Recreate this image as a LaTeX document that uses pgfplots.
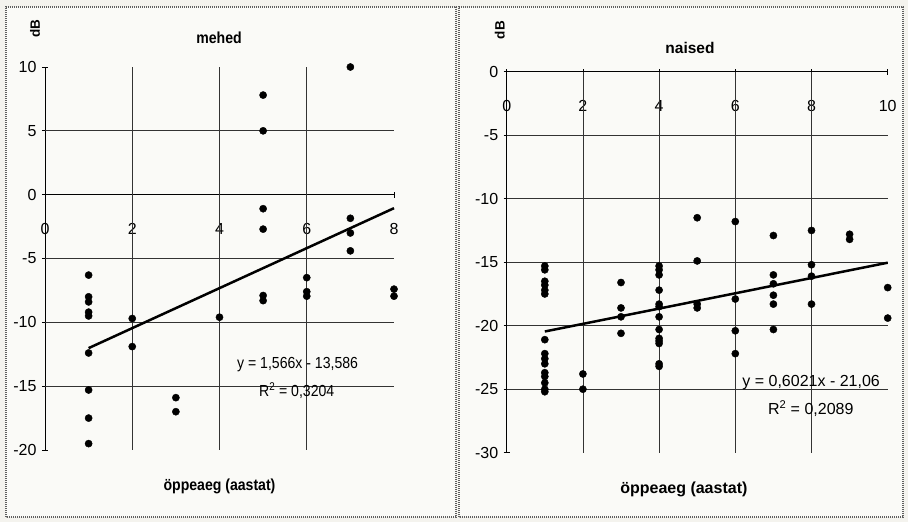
\documentclass[border=0pt]{standalone}
\usepackage{graphicx}
\usepackage{pgfplots}
\pgfplotsset{compat=1.18}
\usepackage{fontspec}
\setmainfont{Liberation Sans}
\definecolor{bg}{RGB}{244,243,238}
\definecolor{framec}{RGB}{95,95,95}
\newcommand{\lsq}[1]{\scalebox{0.88}[1]{#1}}
\begin{document}
\begin{tikzpicture}[x=1pt,y=1pt]
\path[use as bounding box, fill=bg] (0,0) rectangle (908,522);
\fill[white!55!bg] (6,5) rectangle (456,515);
\fill[white!55!bg] (459,5) rectangle (903,515);
\draw[framec, line width=2.2pt, dash pattern=on 1.1pt off 0.9pt] (6,5) rectangle (456,515);
\draw[framec, line width=2.2pt, dash pattern=on 1.1pt off 0.9pt] (459,5) rectangle (903,515);
\pgfplotsset{
  myax/.style={
    scale only axis, axis x line=middle, axis y line=left,
    x axis line style={-}, y axis line style={-},
    axis line style={black, line width=0.9pt},
    hide obscured x ticks=false,
    enlargelimits=false, clip=false,
    tick align=center, major tick length=6pt,
    tick style={black, line width=0.8pt},
    major grid style={black!80, line width=0.8pt},
    /pgf/number format/assume math mode=true,
    ticklabel style={font=\fontsize{16}{18}\selectfont},
    xticklabel style={anchor=center, yshift=-31pt},
    yticklabel style={xshift=-2pt},
    extra x tick style={grid=major, major tick length=0pt},
    extra y tick style={grid=major, major tick length=0pt},
  }
}
% ---------------- left: mehed ----------------
\begin{axis}[myax, at={(45pt,72pt)}, anchor=south west,
  width=349pt, height=383pt,
  xmin=0, xmax=8, ymin=-20, ymax=10,
  xtick={0,2,4,6,8}, ytick={-20,-15,-10,-5,0,5,10},
  extra x ticks={2,4,6}, extra x tick labels={},
  extra y ticks={-15,-10,-5,5}, extra y tick labels={}]
\addplot[only marks, mark=*, mark size=3.6pt, black] coordinates {
 (1,-6.3) (1,-8.0) (1,-8.4) (1,-9.2) (1,-9.5) (1,-12.4) (1,-15.3) (1,-17.5) (1,-19.5)
 (2,-9.7) (2,-11.9)
 (3,-15.9) (3,-17.0)
 (4,-9.6)
 (5,7.8) (5,5.0) (5,-1.1) (5,-2.7) (5,-7.9) (5,-8.3)
 (6,-6.5) (6,-7.6) (6,-7.95)
 (7,10.0) (7,-1.85) (7,-3.0) (7,-4.4)
 (8,-7.4) (8,-7.95)
};
\addplot[black, line width=2.5pt] coordinates {(1,-12.02) (8,-1.058)};
\node[font=\fontsize{16}{18}\selectfont] at (axis cs:5.79,-13.3) {\lsq{y = 1,566x - 13,586}};
\node[font=\fontsize{16}{18}\selectfont] at (axis cs:5.77,-15.35) {\lsq{R\textsuperscript{2} = 0,3204}};
\node[font=\bfseries\fontsize{16}{18}\selectfont] at (axis cs:3.99,12.3) {\lsq{mehed}};
\node[font=\bfseries\fontsize{16}{18}\selectfont] at (axis cs:4.0,-22.87) {\lsq{öppeaeg (aastat)}};
\node[font=\bfseries\fontsize{13.5}{15}\selectfont, rotate=90] at (axis cs:-0.23,13.0) {dB};
\end{axis}
% ---------------- right: naised ----------------
\begin{axis}[myax, at={(506.7pt,69.3pt)}, anchor=south west,
  width=381pt, height=381pt,
  xmin=0, xmax=10, ymin=-30, ymax=0,
  xtick={0,2,4,6,8,10}, ytick={-30,-25,-20,-15,-10,-5,0},
  extra x ticks={2,4,6,8}, extra x tick labels={},
  extra y ticks={-25,-20,-15,-10,-5}, extra y tick labels={}]
\addplot[only marks, mark=*, mark size=3.6pt, black] coordinates {
 (1,-15.3) (1,-15.6) (1,-16.5) (1,-16.8) (1,-17.2) (1,-17.5) (1,-21.1) (1,-22.2)
 (1,-22.6) (1,-23.0) (1,-23.7) (1,-24.0) (1,-24.5) (1,-25.0) (1,-25.2)
 (2,-23.8) (2,-25.0)
 (3,-16.6) (3,-18.6) (3,-19.3) (3,-20.6)
 (4,-15.3) (4,-15.6) (4,-16.0) (4,-17.2) (4,-18.3) (4,-18.5) (4,-19.3) (4,-20.3)
 (4,-21.0) (4,-21.2) (4,-21.4) (4,-23.0) (4,-23.2)
 (5,-11.5) (5,-14.9) (5,-18.3) (5,-18.6)
 (6,-11.8) (6,-17.9) (6,-20.4) (6,-22.2)
 (7,-12.9) (7,-16.0) (7,-16.7) (7,-17.6) (7,-18.3) (7,-20.3)
 (8,-12.5) (8,-15.2) (8,-16.1) (8,-18.3)
 (9,-12.8) (9,-13.2)
 (10,-17.0) (10,-19.4)
};
\addplot[black, line width=2.5pt] coordinates {(1,-20.458) (10,-15.039)};
\node[font=\fontsize{16}{18}\selectfont] at (axis cs:7.99,-24.5) {y = 0,6021x - 21,06};
\node[font=\fontsize{16}{18}\selectfont] at (axis cs:7.98,-26.5) {R\textsuperscript{2} = 0,2089};
\node[font=\bfseries\fontsize{15.5}{17}\selectfont] at (axis cs:4.81,1.87) {naised};
\node[font=\bfseries\fontsize{16}{18}\selectfont] at (axis cs:4.65,-32.86) {öppeaeg (aastat)};
\node[font=\bfseries\fontsize{13.5}{15}\selectfont, rotate=90] at (axis cs:-0.18,3.28) {dB};
\end{axis}
\end{tikzpicture}
\end{document}
